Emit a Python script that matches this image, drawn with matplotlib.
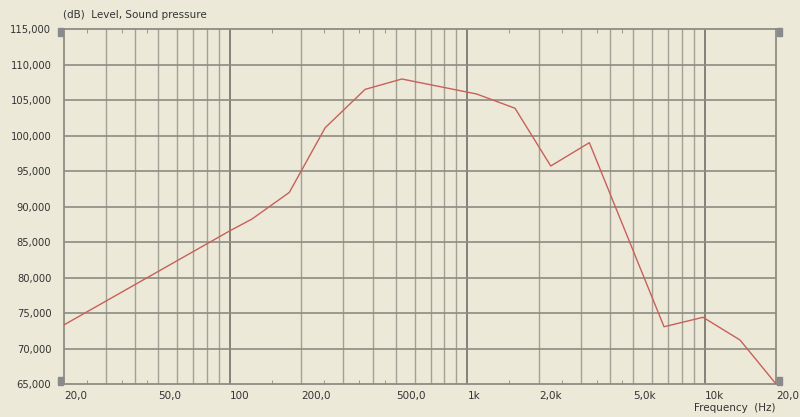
import numpy as np
import matplotlib.pyplot as plt
from matplotlib.patches import Rectangle
from matplotlib.ticker import FixedLocator, NullFormatter

freq_hz = [20, 100, 124, 178, 252, 371, 530, 1095, 1588, 2245, 3264, 6733, 9827, 14070, 20000]
level_db = [73.35, 86.6, 88.26, 92.0, 101.1, 106.5, 107.96, 105.85, 103.84, 95.72, 99.0, 73.1, 74.43, 71.23, 65.0]

xtick_vals = [20, 50, 100, 200, 500, 1000, 2000, 5000, 10000, 20000]
xtick_lbls = ['20,0', '50,0', '100', '200,0', '500,0', '1k', '2,0k', '5,0k', '10k', '20,0k']
ytick_vals = list(range(65, 116, 5))

bg = '#ece9d8'
fig = plt.figure(figsize=(8, 4.17), dpi=100, facecolor=bg)
ax = fig.add_axes([0.0798, 0.0784, 0.8906, 0.8521], facecolor=bg)

ax.set_xscale('log')
ax.set_xlim(20, 20000)
ax.set_ylim(65, 115)

# grid: decades darker, the rest lighter
grid_freqs = [m * 10 ** e for e in range(1, 5) for m in range(1, 10)]
for f in grid_freqs:
    if f <= 20 or f >= 20000:
        continue
    major = f in (100, 1000, 10000)
    ax.axvline(f, color='#7c7a70' if major else '#a3a196',
               lw=1.3 if major else 1.0, zorder=1)
for v in ytick_vals[1:-1]:
    ax.axhline(v, color='#8e8c82', lw=1.2, zorder=1)

ax.plot(freq_hz, level_db, color='#c8605a', lw=1.0, zorder=3)

for s in ax.spines.values():
    s.set_color('#8e8c82')
    s.set_linewidth(1.3)

ax.xaxis.set_major_locator(FixedLocator(xtick_vals))
ax.set_xticklabels(xtick_lbls)
half_ticks = [m * 10 ** e for e in range(1, 4) for m in (1.5, 2.5, 3.5, 4.5)]
ax.xaxis.set_minor_locator(FixedLocator([t for t in half_ticks if 20 < t < 20000]))
ax.xaxis.set_minor_formatter(NullFormatter())
ax.tick_params(axis='x', which='major', length=0, pad=5, labelsize=7.5, labelcolor='#333333')
ax.tick_params(axis='x', which='minor', direction='in', length=3, color='#8e8c82',
               top=True, bottom=True)
for lbl in ax.get_xticklabels():
    lbl.set_horizontalalignment('left')
    lbl.set_x(lbl.get_position()[0])

ax.set_yticks(ytick_vals)
ax.set_yticklabels([f'{v:.3f}'.replace('.', ',') for v in ytick_vals])
ax.tick_params(axis='y', length=0, pad=9, labelsize=7.2, labelcolor='#333333')

fig.text(0.079, 0.965, '(dB)  Level, Sound pressure', fontsize=7.5, color='#333333',
         ha='left', va='center')
fig.text(0.970, 0.022, 'Frequency  (Hz)', fontsize=7.5, color='#333333',
         ha='right', va='center')

# little handle blocks at the corners
for (x, y) in [(0.0725, 0.914), (0.0725, 0.077), (0.971, 0.914), (0.971, 0.077)]:
    fig.patches.append(Rectangle((x, y), 0.0065, 0.018, transform=fig.transFigure,
                                 color='#8a8a8a', zorder=5))

fig.savefig('out.png', dpi=100, facecolor=bg)
